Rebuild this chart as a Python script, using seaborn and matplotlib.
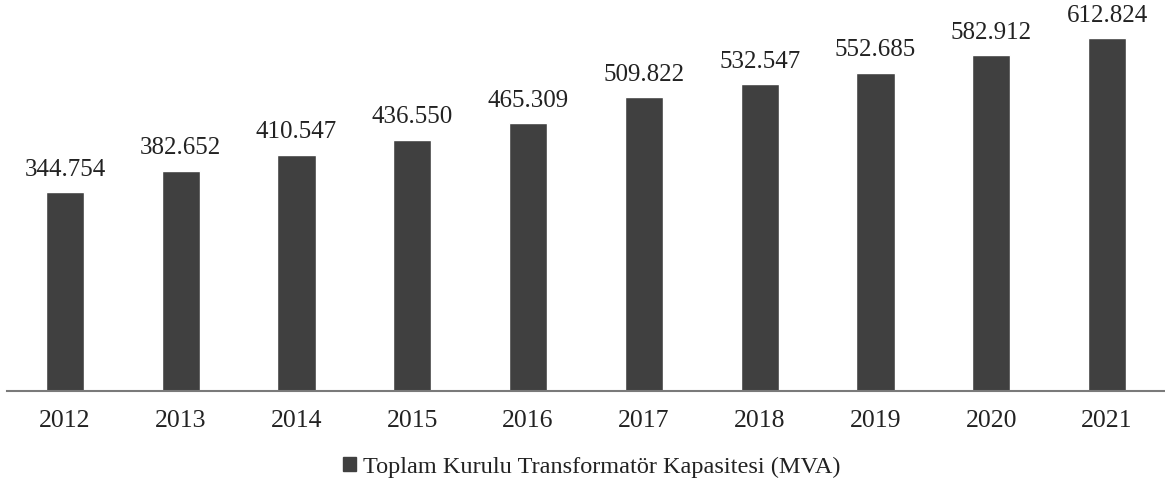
import pandas as pd
import matplotlib.pyplot as plt
import seaborn as sns
from matplotlib.patches import Patch

# -----------------------------------
# Data
# -----------------------------------
years = ["2012", "2013", "2014", "2015", "2016",
         "2017", "2018", "2019", "2020", "2021"]
capacity_mva = [344754, 382652, 410547, 436550, 465309,
                509822, 532547, 552685, 582912, 612824]
series_name = "Toplam Kurulu Transformatör Kapasitesi (MVA)"

df = pd.DataFrame({"Year": years, "Capacity": capacity_mva})

# -----------------------------------
# Plot
# -----------------------------------
sns.set_style("white")
plt.rcParams["font.family"] = ["Liberation Serif", "DejaVu Serif"]

bar_color = "#404040"

fig = plt.figure(figsize=(11.65, 4.88), dpi=100)
ax = fig.add_axes([0.006, 0.199, 0.994, 0.801])

sns.barplot(data=df, x="Year", y="Capacity", color=bar_color,
            width=0.33, saturation=1, ax=ax)

for i, v in enumerate(capacity_mva):
    label = f"{v:,}".replace(",", ".")
    ax.text(i, v + 20000, label, ha="center", va="bottom",
            fontsize=18, color="#222222")

ax.set_ylim(0, 679000)
ax.set_xlim(-0.5, len(years) - 0.5)
ax.set_xlabel("")
ax.set_ylabel("")
ax.set_yticks([])
ax.tick_params(axis="x", length=0, labelsize=18.5, pad=14, colors="#222222")

for side in ["top", "right", "left"]:
    ax.spines[side].set_visible(False)
ax.spines["bottom"].set_color("#7a7a7a")
ax.spines["bottom"].set_linewidth(1.5)

handle = Patch(facecolor=bar_color, edgecolor=bar_color)
fig.legend([handle], [series_name], loc="center", bbox_to_anchor=(0.508, 0.043),
           frameon=False, fontsize=17.5, handlelength=0.55, handleheight=0.55,
           handletextpad=0.3, labelcolor="#222222")

fig.savefig("out.png", dpi=100)
